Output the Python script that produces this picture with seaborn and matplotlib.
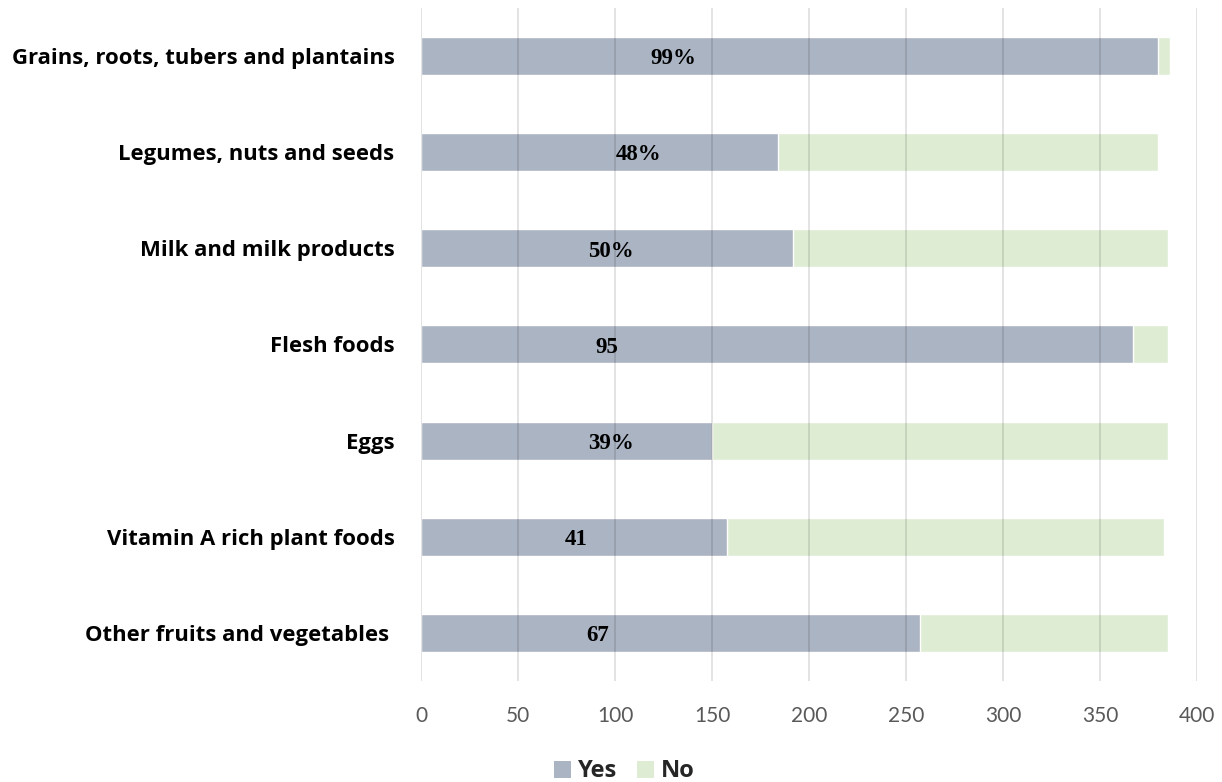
import matplotlib
matplotlib.use("Agg")
import matplotlib.pyplot as plt
from matplotlib.patches import Patch
import seaborn as sns
import pandas as pd

# Food groups and number of respondents who consumed (Yes) / did not consume (No)
categories = [
    "Grains, roots, tubers and plantains",
    "Legumes, nuts and seeds",
    "Milk and milk products",
    "Flesh foods",
    "Eggs",
    "Vitamin A rich plant foods",
    "Other fruits and vegetables ",
]
yes_counts = [380, 184, 192, 367, 150, 158, 257]
no_counts = [6, 196, 193, 18, 235, 225, 128]
bar_labels = ["99%", "48%", "50%", "95", "39%", "41", "67"]
label_x = [130, 112, 98, 96, 98, 80, 91]
x_ticks = [0, 50, 100, 150, 200, 250, 300, 350, 400]

YES_COLOR = "#ABB4C3"
NO_COLOR = "#DEECD4"

df = pd.DataFrame({
    "category": categories,
    "yes": yes_counts,
    "total": [y + n for y, n in zip(yes_counts, no_counts)],
})

sns.set_theme(style="white")
plt.rcParams["font.family"] = ["Open Sans", "DejaVu Sans"]

fig = plt.figure(figsize=(12.22, 7.82), dpi=100)
ax = fig.add_axes([0.3445, 0.129, 0.635, 0.861])

# Stacked bars: full total in the "No" colour, "Yes" drawn over it from zero
sns.barplot(data=df, y="category", x="total", color=NO_COLOR, orient="h",
            width=0.395, saturation=1, ax=ax)
sns.barplot(data=df, y="category", x="yes", color=YES_COLOR, orient="h",
            width=0.395, saturation=1, ax=ax)

ax.set_xlim(0, 400)
ax.set_ylim(6.5, -0.5)
ax.set_xticks(x_ticks)
ax.set_xticklabels([str(t) for t in x_ticks])
ax.set_xlabel("")
ax.set_ylabel("")

# vertical gridlines drawn above the bars, semi-transparent
ax.set_axisbelow(False)
ax.grid(axis="x", color="black", alpha=0.13, linewidth=1.2)
ax.grid(axis="y", visible=False)
for s in ax.spines.values():
    s.set_visible(False)

ax.tick_params(axis="x", length=0, pad=18, labelsize=15, labelcolor="#595959")
for lab in ax.get_xticklabels():
    lab.set_family(["Lato", "DejaVu Sans"])
ax.tick_params(axis="y", length=0, pad=19)
for lab in ax.get_yticklabels():
    lab.set_fontweight("bold")
    lab.set_fontsize(15.9)
    lab.set_color("black")

for i, (txt, xpos) in enumerate(zip(bar_labels, label_x)):
    ax.text(xpos, i + 0.03, txt, ha="center", va="center",
            family="Liberation Serif", fontweight="bold", fontsize=16.5,
            color="black")

handles = [Patch(facecolor=YES_COLOR, edgecolor="none", label="Yes"),
           Patch(facecolor=NO_COLOR, edgecolor="none", label="No")]
fig.legend(handles=handles, loc="lower center", bbox_to_anchor=(0.511, -0.029),
           ncol=2, frameon=False, handlelength=0.72, handleheight=0.72,
           handletextpad=0.28, columnspacing=0.85,
           prop={"weight": "bold", "size": 17})

fig.savefig("out.png", dpi=100)
